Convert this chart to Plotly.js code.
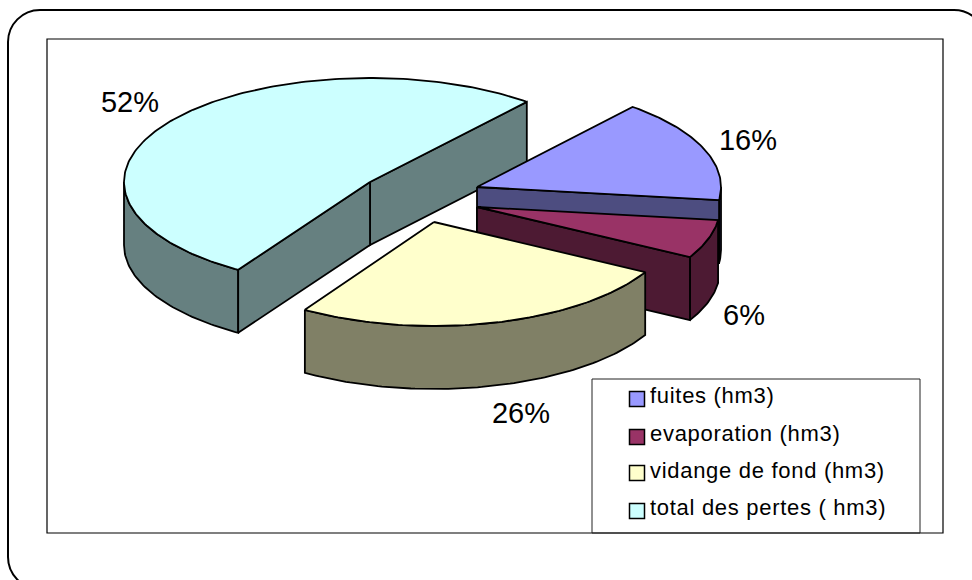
<!DOCTYPE html>
<html><head><meta charset="utf-8">
<script src="https://cdn.plot.ly/plotly-3.0.1.min.js"></script>
<style>html,body{margin:0;padding:0;background:#fff;overflow:hidden}#c{width:972px;height:580px}
text[style*="font-size: 22px"]{letter-spacing:0.7px}</style>
</head><body><div id="c"></div>
<script>
// Data, in the order the slices go round the pie
const categories = ["total des pertes ( hm3)", "vidange de fond (hm3)", "evaporation (hm3)", "fuites (hm3)"];
const shares = [52, 26, 6, 16];
const labelText = ["52%", "26%", "6%", "16%"];
const legendOrder = ["fuites (hm3)", "evaporation (hm3)", "vidange de fond (hm3)", "total des pertes ( hm3)"];
const paintOrder = ["total des pertes ( hm3)", "fuites (hm3)", "evaporation (hm3)", "vidange de fond (hm3)"];

// Styles and layout
const topColors = {"total des pertes ( hm3)":"#CCFFFF","fuites (hm3)":"#9999FF","evaporation (hm3)":"#993366","vidange de fond (hm3)":"#FFFFCC"};
const sideColors = {"total des pertes ( hm3)":"#668080","fuites (hm3)":"#4D4D80","evaporation (hm3)":"#4D1A33","vidange de fond (hm3)":"#808066"};
const arcColors = {"total des pertes ( hm3)":"#668080","fuites (hm3)":"#6A6AC8","evaporation (hm3)":"#4D1A33","vidange de fond (hm3)":"#808066"};
const sliceCenters = {"total des pertes ( hm3)":[370,182],"fuites (hm3)":[477,187],"evaporation (hm3)":[477,207],"vidange de fond (hm3)":[434,222]};
const sliceRadiusX = {"total des pertes ( hm3)":246,"fuites (hm3)":244,"evaporation (hm3)":243,"vidange de fond (hm3)":241};
const labelPos = {"total des pertes ( hm3)":[130,105],"fuites (hm3)":[748,143],"evaporation (hm3)":[744,318],"vidange de fond (hm3)":[521,416]};
const B = 104, DEPTH = 63, START_DEG = 50.4, LW = 1.8;
const legendRowY = [399, 437, 473, 511], legendTextY = [397.5, 435, 472, 509.5];
const legendMarkerX = 637, legendTextX = 650;

const rad = d => d * Math.PI / 180;
function pt(c, A, t, dz) { return [c[0] + A * Math.cos(rad(t)), c[1] - B * Math.sin(rad(t)) + (dz || 0)]; }
function arc(c, A, t0, t1, dz) {
  const out = [], n = Math.max(2, Math.ceil(Math.abs(t1 - t0)));
  for (let i = 0; i <= n; i++) out.push(pt(c, A, t0 + (t1 - t0) * i / n, dz));
  return out;
}
function poly(points, fill) {
  return {type:"scatter", mode:"lines", x:points.map(p=>p[0]), y:points.map(p=>p[1]),
    fill:"toself", fillcolor:fill, line:{color:"#000", width:LW, shape:"linear"},
    hoverinfo:"skip", showlegend:false};
}
function visibleArcRanges(t0, t1) {
  const res = [];
  for (let k = -1; k <= 2; k++) {
    const a = Math.max(t0, 180 + 360 * k), b = Math.min(t1, 360 + 360 * k);
    if (b > a) res.push([a, b]);
  }
  return res;
}

const spans = {};
let angle = START_DEG;
categories.forEach((name, i) => {
  const sweep = shares[i] / 100 * 360;
  spans[name] = [angle, angle + sweep];
  angle += sweep;
});

const traces = [];
paintOrder.forEach(name => {
  const [t0, t1] = spans[name], c = sliceCenters[name], A = sliceRadiusX[name], side = sideColors[name];
  const lowerC = [c[0], c[1] + DEPTH];
  visibleArcRanges(t0, t1).forEach(r => {
    const up = arc(c, A, r[0], r[1]), low = arc(c, A, r[1], r[0], DEPTH);
    const pts = up.concat(low); pts.push(up[0]);
    traces.push(poly(pts, arcColors[name]));
  });
  const walls = [];
  if (Math.sin(rad(t0 - 90)) < 0) walls.push(t0);
  if (Math.sin(rad(t1 + 90)) < 0) walls.push(t1);
  walls.forEach(t => {
    traces.push(poly([c, pt(c, A, t), pt(lowerC, A, t), lowerC, c], side));
  });
  const top = [c].concat(arc(c, A, t0, t1)); top.push(c);
  traces.push(poly(top, topColors[name]));
});

traces.push({type:"scatter", mode:"markers", x:legendOrder.map(()=>legendMarkerX), y:legendRowY,
  marker:{symbol:"square", size:15, color:legendOrder.map(n=>topColors[n]), line:{color:"#000", width:1.5}},
  hoverinfo:"skip", showlegend:false});
traces.push({type:"scatter", mode:"text", x:legendOrder.map(()=>legendTextX), y:legendTextY,
  text:legendOrder, textposition:"middle right",
  textfont:{family:"Liberation Sans, Arial, sans-serif", size:22, color:"#000"},
  hoverinfo:"skip", showlegend:false});

traces.push({type:"scatter", mode:"text", x:categories.map(n=>labelPos[n][0]), y:categories.map(n=>labelPos[n][1]),
  text:labelText, textposition:"middle center",
  textfont:{family:"Liberation Sans, Arial, sans-serif", size:29, color:"#000"},
  hoverinfo:"skip", showlegend:false});

const L=8, T=10, R=986, Bt=589, Rd=32, K=Rd*0.448;
const layout = {
  width:972, height:580, margin:{l:0,r:0,t:0,b:0}, showlegend:false,
  paper_bgcolor:"#fff", plot_bgcolor:"#fff",
  xaxis:{range:[0,972], visible:false, fixedrange:true},
  yaxis:{range:[580,0], visible:false, fixedrange:true},
  shapes:[
    {type:"path", xref:"paper", yref:"paper", layer:"below",
     path:`M ${(L+Rd)/972} ${1-T/580} L ${(R-Rd)/972} ${1-T/580} C ${(R-K)/972} ${1-T/580} ${R/972} ${1-(T+K)/580} ${R/972} ${1-(T+Rd)/580} L ${R/972} ${1-(Bt-Rd)/580} C ${R/972} ${1-(Bt-K)/580} ${(R-K)/972} ${1-Bt/580} ${(R-Rd)/972} ${1-Bt/580} L ${(L+Rd)/972} ${1-Bt/580} C ${(L+K)/972} ${1-Bt/580} ${L/972} ${1-(Bt-K)/580} ${L/972} ${1-(Bt-Rd)/580} L ${L/972} ${1-(T+Rd)/580} C ${L/972} ${1-(T+K)/580} ${(L+K)/972} ${1-T/580} ${(L+Rd)/972} ${1-T/580} Z`,
     line:{color:"#000", width:2}},
    {type:"rect", xref:"x", yref:"y", layer:"below", x0:47, y0:39, x1:943, y1:533, line:{color:"#000", width:1.2}},
    {type:"rect", xref:"x", yref:"y", layer:"below", x0:592, y0:379, x1:920, y1:533, line:{color:"#222", width:1}}
  ]
};
Plotly.newPlot("c", traces, layout, {displayModeBar:false, staticPlot:true});
</script></body></html>
